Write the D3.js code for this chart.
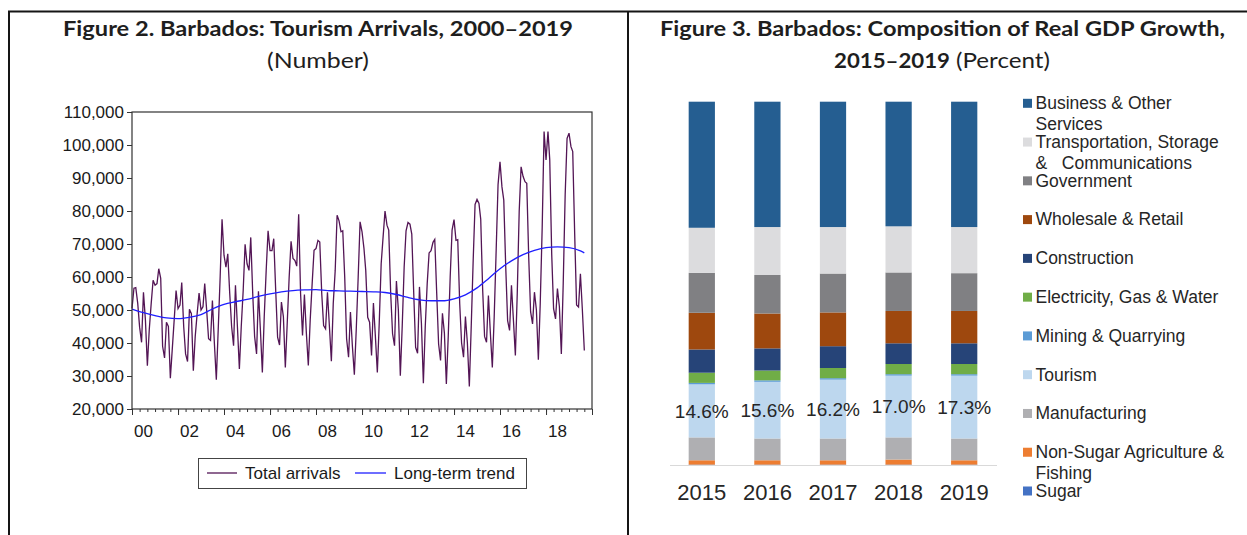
<!DOCTYPE html>
<html>
<head>
<meta charset="utf-8">
<script src="https://cdn.jsdelivr.net/npm/d3@7"></script>
<style>
body { margin: 0; background: #fff; }
svg { display: block; }
</style>
</head>
<body>
<svg width="1247" height="535"></svg>
<script>
// ---- Figure 2 data: monthly total arrivals (thousands), Jan 2000 - Sep 2019
var arrivalsK = [
    50.5, 56.6, 56.8, 52, 44.8, 40.2, 55.4, 47, 33.1, 44, 52, 59,          // 2000
    57.5, 58, 62.5, 59.6, 39, 35.5, 46.3, 45, 29.3, 38, 47, 55.9,          // 2001
    50.4, 51.5, 58.3, 45, 36.7, 34.4, 50.2, 48.9, 31.6, 42, 49, 55.1,      // 2002
    50, 51, 58, 49.9, 41.3, 40.8, 52.9, 40, 28.9, 44, 60, 77.5,            // 2003
    66.6, 63, 67, 55, 45, 39.2, 57.5, 45, 32.1, 45, 56, 69.9,              // 2004
    64, 62, 72, 55, 42, 36.7, 55.7, 44, 31.1, 48, 62, 74,                  // 2005
    68, 68, 71.6, 56, 41.8, 39.4, 52.4, 48, 32.6, 46, 60, 70.8,            // 2006
    65.6, 65, 63.3, 79, 55, 42.3, 54.7, 43, 33.2, 47, 58, 68.1,            // 2007
    68.6, 71.1, 70.6, 55, 45.3, 44.3, 55.4, 45, 34.5, 52, 62, 78.7,        // 2008
    77, 73.7, 74, 60, 41.3, 35.7, 49.4, 39, 30.4, 44, 60, 76.7,            // 2009
    73.7, 68.6, 62, 47.8, 46.3, 36.2, 52.1, 42, 31.1, 46, 64, 72,          // 2010
    80, 75.7, 74.2, 55, 42.8, 39.2, 58.8, 50, 30.1, 45, 63, 74,            // 2011
    76.5, 76, 73, 55, 38.7, 36.9, 57, 46, 27.8, 45, 58, 67.3,              // 2012
    68, 70.5, 71.4, 55, 39.7, 34.7, 49, 43, 27.6, 42, 60, 74.2,            // 2013
    77.4, 71.1, 71.3, 52, 40, 35.7, 48, 40, 26.8, 45, 65, 82,              // 2014
    83.5, 82.3, 77.5, 56, 42, 40.2, 54.4, 43, 32.6, 48, 68, 88,            // 2015
    94.9, 87.3, 83.3, 63, 46.8, 43.8, 57.5, 47, 36.2, 55, 80, 93.4,        // 2016
    90.5, 88.9, 88.4, 66, 49.5, 45.8, 55.4, 50, 34.9, 52, 75, 104.1,       // 2017
    95.5, 104.1, 95.5, 67, 50.4, 47.3, 56.5, 51, 36.7, 58, 85, 102,        // 2018
    103.6, 99.5, 98, 73, 51.5, 50.9, 61, 50, 37.7                          // 2019
]
// long-term trend, read every 6 months (month index from Jan 2000, thousands)
var trendMonth = [0, 6, 12, 18, 24, 30, 36, 42, 48, 54, 60, 66, 72, 78, 84, 90, 96, 102, 108, 114,
    120, 126, 132, 138, 144, 150, 156, 162, 168, 174, 180, 186, 192, 198, 204, 210, 216, 222, 228, 234, 236]
var trendK = [50.3, 49.2, 48.3, 47.6, 47.4, 47.8, 48.6, 50.3, 51.7, 52.5, 53.2, 54.1, 54.9, 55.5, 55.9, 56.1, 56.2, 55.9, 55.8, 55.7,
    55.6, 55.5, 55.3, 54.7, 53.8, 53.1, 52.8, 52.8, 53.4, 54.6, 56.7, 59.5, 62.5, 64.9, 66.8, 68.1, 68.9, 69.1, 68.9, 67.9, 67.3]
var yTicks = [20000, 30000, 40000, 50000, 60000, 70000, 80000, 90000, 100000, 110000]
var labelYears = [2000, 2002, 2004, 2006, 2008, 2010, 2012, 2014, 2016, 2018]

// ---- Figure 3 data: shares of real GDP (percent), stacked bottom to top
var years = ['2015', '2016', '2017', '2018', '2019']
var sectors = ['Sugar', 'Non-Sugar Agriculture & Fishing', 'Manufacturing', 'Tourism', 'Mining & Quarrying',
    'Electricity, Gas & Water', 'Construction', 'Wholesale & Retail', 'Government',
    'Transportation, Storage & Communications', 'Business & Other Services']
var sugar = [0.1, 0.1, 0.1, 0.1, 0.1]
var nonSugar = [1.2, 1.2, 1.2, 1.4, 1.2]
var manufacturing = [6.3, 6.0, 6.0, 6.1, 6.0]
var tourism = [14.6, 15.6, 16.2, 17.0, 17.3]
var mining = [0.4, 0.4, 0.4, 0.4, 0.4]
var electricity = [2.8, 2.7, 2.8, 2.8, 2.8]
var construction = [6.4, 6.1, 6.0, 5.7, 5.7]
var wholesale = [10.1, 9.6, 9.3, 8.9, 8.9]
var government = [11.0, 10.6, 10.7, 10.6, 10.4]
var transport = [12.4, 13.2, 12.8, 12.7, 12.7]
var business = [34.7, 34.5, 34.5, 34.3, 34.5]
var sectorValues = [sugar, nonSugar, manufacturing, tourism, mining, electricity,
    construction, wholesale, government, transport, business]
var sectorColors = ['#4472c4', '#ed7d31', '#afafb2', '#bdd7ee', '#5b9bd5', '#70ad47',
    '#264478', '#9e480e', '#808083', '#dcdcde', '#255e91']
var legendLines = [
    ['Business & Other', 'Services'],
    ['Transportation, Storage', '&\u00a0\u00a0\u00a0Communications'],
    ['Government'], ['Wholesale & Retail'], ['Construction'], ['Electricity, Gas & Water'],
    ['Mining & Quarrying'], ['Tourism'], ['Manufacturing'],
    ['Non-Sugar Agriculture &', 'Fishing'], ['Sugar']
]

var svg = d3.select('svg')
var sans = '"Liberation Sans", Arial, sans-serif'
var titleFont = 'Lato, "Open Sans", sans-serif'

// frame lines
svg.append('path')
    .attr('d', 'M9,535 V11.5 H1247 M628,11.5 V535')
    .attr('fill', 'none')
    .attr('stroke', '#151515')
    .attr('stroke-width', 2)

function titleText(x, y, str, weight, len, anchor) {
    return svg.append('text')
        .attr('x', x).attr('y', y)
        .attr('text-anchor', anchor || 'middle')
        .attr('textLength', len)
        .attr('lengthAdjust', 'spacingAndGlyphs')
        .style('font-family', titleFont)
        .style('font-weight', weight)
        .style('font-size', '21px')
        .style('fill', '#1e1e1e')
        .text(str)
}
titleText(318, 36, 'Figure 2. Barbados: Tourism Arrivals, 2000\u20132019', 'bold', 510)
titleText(318, 68, '(Number)', 'normal', 102)
titleText(942.5, 36, 'Figure 3. Barbados: Composition of Real GDP Growth,', 'bold', 565)
titleText(834, 68, '2015\u20132019', 'bold', 116, 'start')
titleText(956, 68, '(Percent)', 'normal', 94, 'start')

// ---------------- Figure 2 ----------------
var x = d3.scaleTime()
    .domain([new Date(2000, 0, 1), new Date(2020, 0, 1)])
    .range([132, 592])
var y = d3.scaleLinear()
    .domain([20000, 110000])
    .range([409, 112])

var yAxis = svg.append('g')
    .attr('transform', 'translate(132,0)')
    .call(d3.axisLeft(y).tickValues(yTicks).tickSize(5).tickPadding(3).tickFormat(d3.format(',')))
yAxis.select('.domain').remove()
yAxis.selectAll('text').style('font-family', sans).style('font-size', '17px').style('fill', '#1a1a1a')
yAxis.selectAll('line').attr('stroke', '#333')

var xMinor = svg.append('g')
    .attr('transform', 'translate(0,409)')
    .call(d3.axisBottom(x).ticks(d3.timeMonth.every(4)).tickSize(3).tickFormat(''))
xMinor.select('.domain').remove()
xMinor.selectAll('line').attr('stroke', '#333')
var xMajor = svg.append('g')
    .attr('transform', 'translate(0,409)')
    .call(d3.axisBottom(x).ticks(d3.timeYear.every(2)).tickSize(6).tickFormat(''))
xMajor.select('.domain').remove()
xMajor.selectAll('line').attr('stroke', '#333')

svg.selectAll('.xlab')
    .data(labelYears)
    .enter()
    .append('text')
    .attr('class', 'xlab')
    .attr('x', function(d){ return x(new Date(d, 6, 1)) })
    .attr('y', 437)
    .attr('text-anchor', 'middle')
    .style('font-family', sans)
    .style('font-size', '17px')
    .style('fill', '#1a1a1a')
    .text(function(d){ return d3.timeFormat('%y')(new Date(d, 0, 1)) })

var arrivals = arrivalsK.map(function(v, i){ return { date: new Date(2000, i, 1), value: v * 1000 } })
var trend = trendMonth.map(function(m, i){ return { date: new Date(2000, m, 1), value: trendK[i] * 1000 } })

svg.append('path')
    .datum(arrivals)
    .attr('fill', 'none')
    .attr('stroke', '#531555')
    .attr('stroke-width', 1.3)
    .attr('d', d3.line().x(function(d){ return x(d.date) }).y(function(d){ return y(d.value) }))

svg.append('path')
    .datum(trend)
    .attr('fill', 'none')
    .attr('stroke', '#1f1fff')
    .attr('stroke-width', 1.3)
    .attr('d', d3.line().curve(d3.curveMonotoneX).x(function(d){ return x(d.date) }).y(function(d){ return y(d.value) }))

// plot box
svg.append('rect')
    .attr('x', 132).attr('y', 112)
    .attr('width', 460).attr('height', 297)
    .attr('fill', 'none')
    .attr('stroke', '#333')
    .attr('stroke-width', 1.2)

// legend
var lg = svg.append('g')
lg.append('rect')
    .attr('x', 198.5).attr('y', 458.5)
    .attr('width', 328).attr('height', 30)
    .attr('fill', '#fff')
    .attr('stroke', '#444')
lg.append('line').attr('x1', 207).attr('x2', 237).attr('y1', 473).attr('y2', 473)
    .attr('stroke', '#531555').attr('stroke-width', 1.3)
lg.append('text').attr('x', 245).attr('y', 479)
    .style('font-family', sans).style('font-size', '17px').style('fill', '#1a1a1a')
    .text('Total arrivals')
lg.append('line').attr('x1', 355).attr('x2', 386).attr('y1', 473).attr('y2', 473)
    .attr('stroke', '#1f1fff').attr('stroke-width', 1.3)
lg.append('text').attr('x', 394).attr('y', 479)
    .style('font-family', sans).style('font-size', '17px').style('fill', '#1a1a1a')
    .text('Long-term trend')

// ---------------- Figure 3 ----------------
var rows = years.map(function(yr, i){
    var r = { year: yr }
    sectors.forEach(function(s, k){ r[s] = sectorValues[k][i] })
    return r
})
var stacked = d3.stack().keys(sectors)(rows)

var xb = d3.scaleBand()
    .domain(years)
    .range([669, 997])
    .paddingInner(0.6)
    .paddingOuter(0.3)
var yb = d3.scaleLinear()
    .domain([0, 100])
    .range([465, 101.7])

svg.append('g')
    .selectAll('g')
    .data(stacked)
    .enter()
    .append('g')
    .attr('fill', function(d, i){ return sectorColors[i] })
    .selectAll('rect')
    .data(function(d){ return d })
    .enter()
    .append('rect')
    .attr('x', function(d){ return xb(d.data.year) })
    .attr('width', xb.bandwidth())
    .attr('y', function(d){ return yb(d[1]) })
    .attr('height', function(d){ return yb(d[0]) - yb(d[1]) })

svg.append('line')
    .attr('x1', 670).attr('x2', 997)
    .attr('y1', yb(0) + 0.5).attr('y2', yb(0) + 0.5)
    .attr('stroke', '#d9d9d9')

// tourism share labels
var tourismLayer = stacked[sectors.indexOf('Tourism')]
svg.selectAll('.plab')
    .data(tourismLayer)
    .enter()
    .append('text')
    .attr('class', 'plab')
    .attr('x', function(d){ return xb(d.data.year) + xb.bandwidth() / 2 })
    .attr('y', function(d){ return (yb(d[0]) + yb(d[1])) / 2 })
    .attr('dy', '0.36em')
    .attr('text-anchor', 'middle')
    .style('font-family', sans)
    .style('font-size', '19px')
    .style('fill', '#262626')
    .text(function(d){ return d3.format('.1f')(d[1] - d[0]) + '%' })

svg.selectAll('.ylab')
    .data(years)
    .enter()
    .append('text')
    .attr('class', 'ylab')
    .attr('x', function(d){ return xb(d) + xb.bandwidth() / 2 })
    .attr('y', 500)
    .attr('text-anchor', 'middle')
    .style('font-family', sans)
    .style('font-size', '22px')
    .style('fill', '#262626')
    .text(function(d){ return d })

// legend, top to bottom
var legY = d3.scaleLinear().domain([0, legendLines.length - 1]).range([103.3, 491])
var legColors = sectorColors.slice().reverse()
var items = svg.append('g')
    .selectAll('g')
    .data(legendLines)
    .enter()
    .append('g')
    .attr('transform', function(d, i){ return 'translate(1023,' + legY(i) + ')' })
items.append('rect')
    .attr('x', 0).attr('y', -4.5)
    .attr('width', 9).attr('height', 9)
    .attr('fill', function(d, i){ return legColors[i] })
items.each(function(lines){
    var t = d3.select(this).append('text')
        .attr('x', 12.5)
        .attr('y', 5.8)
        .style('font-family', sans)
        .style('font-size', '17.5px')
        .style('fill', '#262626')
    lines.forEach(function(s, j){
        t.append('tspan').attr('x', 12.5).attr('dy', j === 0 ? 0 : 21).text(s)
    })
})
</script>
</body>
</html>
